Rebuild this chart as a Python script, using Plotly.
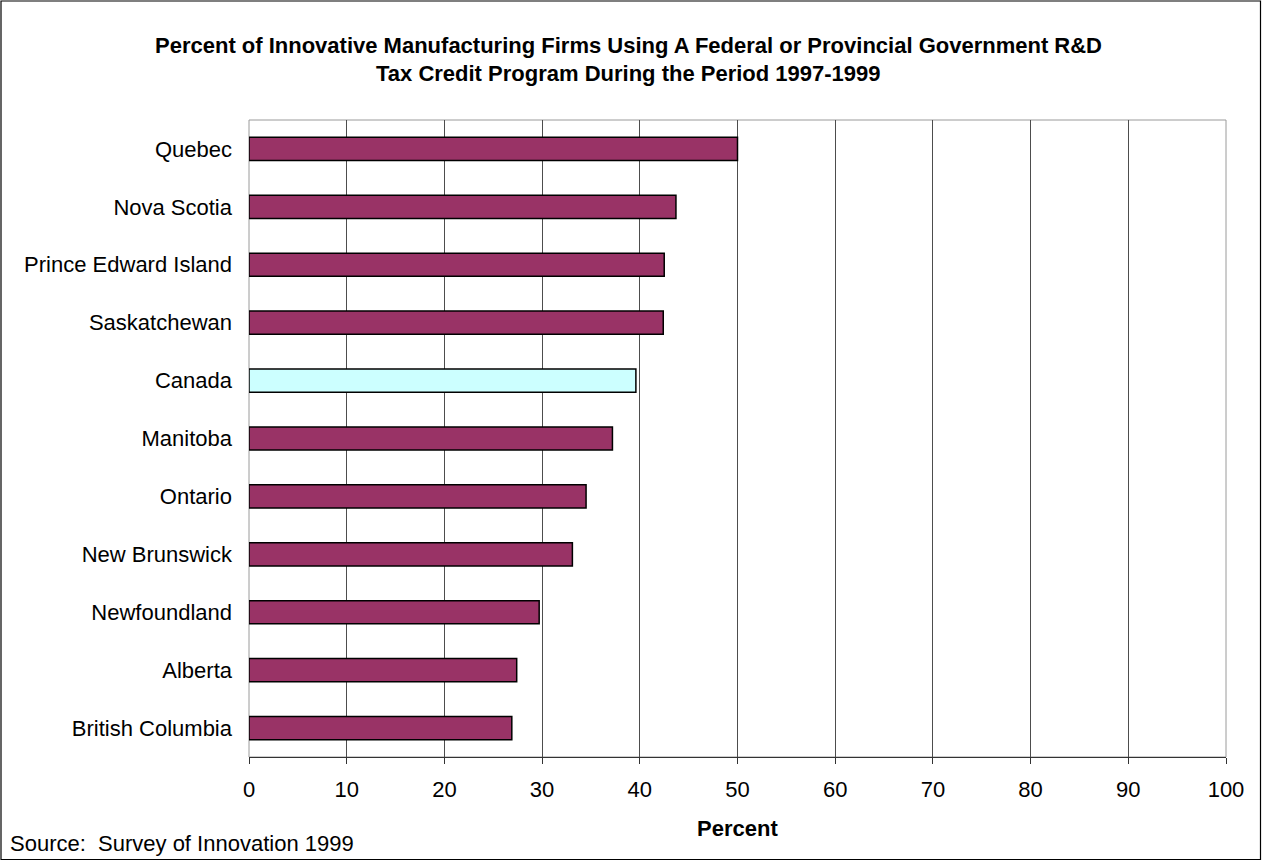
import plotly.graph_objects as go

# Share of innovative manufacturing firms using an R&D tax credit program, 1997-1999
regions = ["Quebec", "Nova Scotia", "Prince Edward Island", "Saskatchewan", "Canada",
           "Manitoba", "Ontario", "New Brunswick", "Newfoundland", "Alberta",
           "British Columbia"]
percent = [50.0, 43.7, 42.5, 42.4, 39.6, 37.2, 34.5, 33.1, 29.7, 27.4, 26.9]
x_ticks = [0, 10, 20, 30, 40, 50, 60, 70, 80, 90, 100]

PLUM = "#993366"
TURQ = "#CCFFFF"
bar_colors = [TURQ if r == "Canada" else PLUM for r in regions]

W, H = 1262, 861
L, R, T, B = 249, 36, 120, 104
PW, PH = W - L - R, H - T - B


def px(x):
    return (x - L) / PW


def py(y):
    return (H - B - y) / PH


fig = go.Figure(go.Bar(
    y=regions[::-1],
    x=percent[::-1],
    orientation="h",
    marker=dict(color=bar_colors[::-1], line=dict(color="#000000", width=1.5)),
    hoverinfo="x+y",
))

font = "Liberation Sans, Arial, sans-serif"
FS = 22

fig.update_layout(
    width=W, height=H,
    margin=dict(l=L, r=R, t=T, b=B, pad=0),
    paper_bgcolor="white", plot_bgcolor="white",
    bargap=0.6,
    showlegend=False,
    font=dict(family=font, size=FS, color="#000000"),
    xaxis=dict(
        range=[0, 100], tickvals=x_ticks, ticktext=[str(v) for v in x_ticks],
        showgrid=True, gridcolor="#4d4d4d", gridwidth=1,
        zeroline=False, showline=True, linecolor="#333333", linewidth=1,
        ticks="outside", ticklen=6, tickcolor="#333333",
        ticklabelstandoff=7,
        tickfont=dict(size=FS), fixedrange=True,
    ),
    yaxis=dict(
        showgrid=False, zeroline=False, showline=False,
        ticks="", ticklabelstandoff=16,
        tickfont=dict(size=FS), fixedrange=True,
    ),
    shapes=[
        # outer chart frame
        dict(type="rect", xref="paper", yref="paper",
             x0=px(1), x1=px(W - 1.5), y0=py(H - 1.5), y1=py(1),
             line=dict(color="#000000", width=1.2), fillcolor="rgba(0,0,0,0)",
             layer="below"),
        # plot area frame
        dict(type="rect", xref="paper", yref="paper",
             x0=0, x1=1, y0=0, y1=1,
             line=dict(color="#9a9a9a", width=1), fillcolor="rgba(0,0,0,0)",
             layer="below"),
    ],
    annotations=[
        dict(text="<b>Percent of Innovative Manufacturing Firms Using A Federal or Provincial Government R&D</b>",
             xref="paper", yref="paper", x=px(628), y=py(46),
             xanchor="center", yanchor="middle", showarrow=False,
             font=dict(size=FS, family=font)),
        dict(text="<b>Tax Credit Program During the Period 1997-1999</b>",
             xref="paper", yref="paper", x=px(628), y=py(73),
             xanchor="center", yanchor="middle", showarrow=False,
             font=dict(size=FS, family=font)),
        dict(text="<b>Percent</b>",
             xref="paper", yref="paper", x=px(737), y=py(828),
             xanchor="center", yanchor="middle", showarrow=False,
             font=dict(size=FS, family=font)),
        dict(text="Source:  Survey of Innovation 1999",
             xref="paper", yref="paper", x=px(8), y=py(843),
             xanchor="left", yanchor="middle", showarrow=False,
             font=dict(size=FS, family=font)),
    ],
)

fig.write_html("out.html")
